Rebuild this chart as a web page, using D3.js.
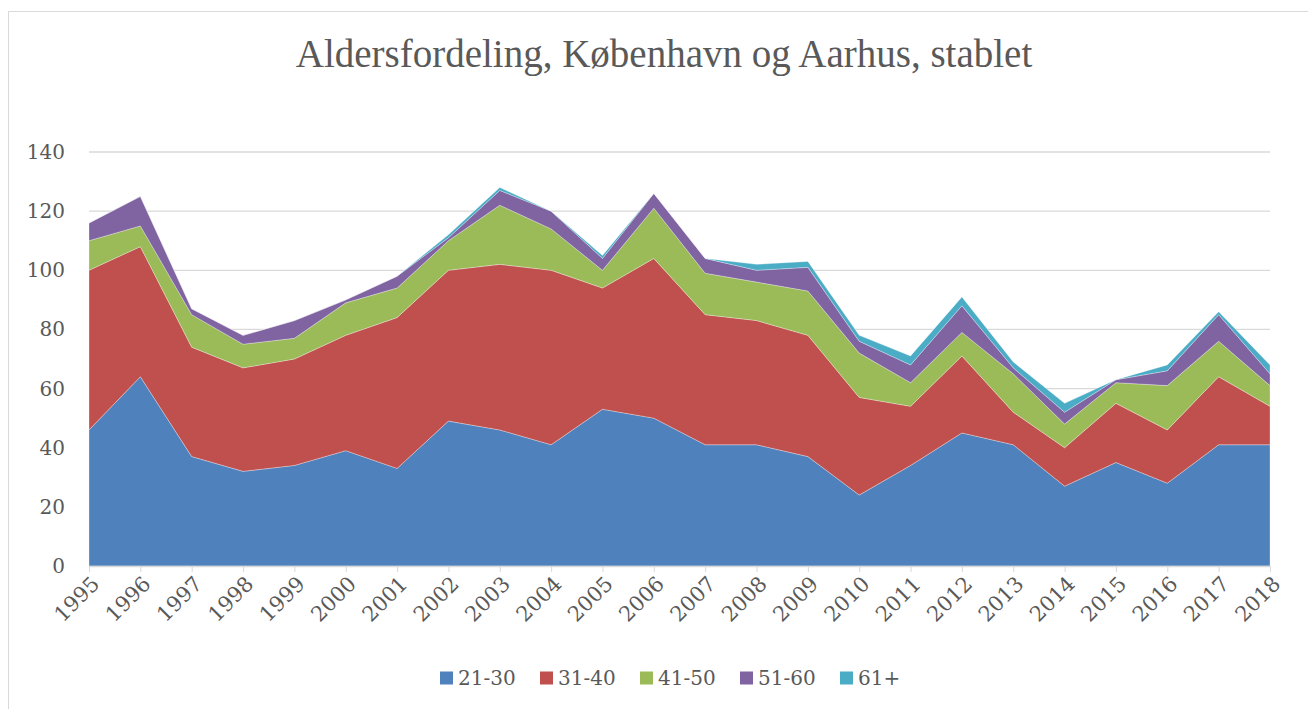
<!DOCTYPE html>
<html>
<head>
  <script src="https://d3js.org/d3.v7.min.js"></script>
  <style>
    * { margin: 0; box-sizing: border-box; }
    body { background: #fff; }
    text { font-family: "DejaVu Serif", serif; fill: #595959; }
    .title { font-family: "Liberation Serif", serif; }
  </style>
</head>
<body>
  <script>
    const years = ["1995","1996","1997","1998","1999","2000","2001","2002","2003","2004","2005","2006",
                   "2007","2008","2009","2010","2011","2012","2013","2014","2015","2016","2017","2018"];
    const groups = ["21-30", "31-40", "41-50", "51-60", "61+"];
    const a21_30 = [46, 64, 37, 32, 34, 39, 33, 49, 46, 41, 53, 50, 41, 41, 37, 24, 34, 45, 41, 27, 35, 28, 41, 41];
    const a31_40 = [54, 44, 37, 35, 36, 39, 51, 51, 56, 59, 41, 54, 44, 42, 41, 33, 20, 26, 11, 13, 20, 18, 23, 13];
    const a41_50 = [10,  7, 11,  8,  7, 11, 10, 10, 20, 14,  6, 17, 14, 13, 15, 15,  8,  8, 13,  8,  7, 15, 12,  7];
    const a51_60 = [ 6, 10,  2,  3,  6,  1,  4,  1,  5,  6,  4,  5,  5,  4,  8,  4,  6,  9,  2,  4,  1,  5,  9,  4];
    const a61    = [ 0,  0,  0,  0,  0,  0,  0,  1,  1,  0,  1,  0,  0,  2,  2,  2,  3,  3,  2,  3,  0,  2,  1,  3];
    const yTicks = [0, 20, 40, 60, 80, 100, 120, 140];
    const colors = ["#4f81bd", "#c0504d", "#9bbb59", "#8064a2", "#4bacc6"];

    const width = 1308, height = 709;
    const margin = { left: 89, right: 38, top: 152, bottom: 143 };

    const rows = years.map((y, i) => ({
      year: y,
      "21-30": a21_30[i], "31-40": a31_40[i], "41-50": a41_50[i], "51-60": a51_60[i], "61+": a61[i]
    }));

    const svg = d3.select("body").append("svg")
      .attr("width", width)
      .attr("height", height);

    // chart frame
    svg.append("rect")
      .attr("x", 8.5).attr("y", 11.5)
      .attr("width", width + 20).attr("height", height + 20)
      .attr("fill", "none")
      .attr("stroke", "#d9d9d9");

    const x = d3.scalePoint().domain(years).range([margin.left, width - margin.right]);
    const y = d3.scaleLinear().domain([0, 140]).range([height - margin.bottom, margin.top]);

    // gridlines
    svg.append("g").selectAll("line")
      .data(yTicks.slice(1))
      .enter().append("line")
      .attr("x1", margin.left).attr("x2", width - margin.right)
      .attr("y1", d => y(d)).attr("y2", d => y(d))
      .attr("stroke", "#d9d9d9").attr("stroke-width", 1.3);

    const stack = d3.stack().keys(groups);
    const series = stack(rows);

    const area = d3.area()
      .x(d => x(d.data.year))
      .y0(d => y(d[0]))
      .y1(d => y(d[1]));

    svg.append("g").selectAll("path")
      .data(series)
      .enter().append("path")
      .attr("d", area)
      .attr("fill", (d, i) => colors[i])
      .attr("stroke", "#fff")
      .attr("stroke-width", 0.3);

    // x axis
    const xAxis = svg.append("g")
      .attr("transform", `translate(0,${y(0)})`)
      .call(d3.axisBottom(x).tickSize(6).tickSizeOuter(0));
    xAxis.select(".domain").attr("stroke", "#d9d9d9").attr("stroke-width", 1.3);
    xAxis.selectAll(".tick line").attr("stroke", "#d9d9d9");
    xAxis.selectAll(".tick text")
      .attr("font-family", "DejaVu Serif")
      .attr("font-size", 21)
      .attr("fill", "#595959")
      .attr("text-anchor", "end")
      .attr("transform", "translate(6,14) rotate(-45)")
      .attr("dy", "0.35em")
      .attr("y", 0);

    // y axis labels
    svg.append("g").selectAll("text")
      .data(yTicks)
      .enter().append("text")
      .attr("x", 65)
      .attr("y", d => y(d))
      .attr("dy", "0.35em")
      .attr("text-anchor", "end")
      .attr("font-size", 20)
      .text(d => d);

    // title
    svg.append("text")
      .attr("class", "title")
      .attr("x", 664)
      .attr("y", 67)
      .attr("text-anchor", "middle")
      .attr("font-size", 39)
      .text("Aldersfordeling, København og Aarhus, stablet");

    // legend
    const legendX = [440, 540, 640, 740, 840];
    const legend = svg.append("g").selectAll("g")
      .data(groups)
      .enter().append("g")
      .attr("transform", (d, i) => `translate(${legendX[i]},678)`);
    legend.append("rect")
      .attr("x", 0).attr("y", -6.5)
      .attr("width", 13).attr("height", 13)
      .attr("fill", (d, i) => colors[i]);
    legend.append("text")
      .attr("x", 18)
      .attr("dy", "0.35em")
      .attr("font-size", 20)
      .text(d => d);
  </script>
</body>
</html>
